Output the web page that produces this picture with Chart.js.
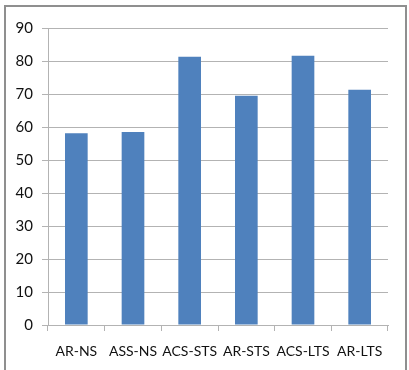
<!DOCTYPE html>
<html>
<head>
<meta charset="utf-8">
<script src="https://cdn.jsdelivr.net/npm/chart.js@4/dist/chart.umd.min.js"></script>
<style>
  html, body { margin: 0; padding: 0; background: #fff; }
  #wrap { position: relative; width: 409px; height: 370px; }
</style>
</head>
<body>
<div id="wrap"><canvas id="chart" width="409" height="370"></canvas></div>
<script>
// Scores per method
const categories = ['AR-NS', 'ASS-NS', 'ACS-STS', 'AR-STS', 'ACS-LTS', 'AR-LTS'];
const scores = [58.1, 58.5, 81.3, 69.5, 81.6, 71.3];
const yTicks = [0, 10, 20, 30, 40, 50, 60, 70, 80, 90];

const gridGray = '#b3b3b3';
const yFont = { family: 'Lato, "Open Sans", sans-serif', size: 15 };
const xFont = { family: 'Lato, "Open Sans", sans-serif', size: 14 };

// Thin gray frame around the figure (open at the bottom)
const framePlugin = {
  id: 'frame',
  afterDraw(chart) {
    const ctx = chart.ctx;
    ctx.save();
    ctx.strokeStyle = '#8f8f8f';
    ctx.lineWidth = 2;
    ctx.beginPath();
    ctx.moveTo(5, 370);
    ctx.lineTo(5, 6);
    ctx.lineTo(406, 6);
    ctx.lineTo(406, 370);
    ctx.stroke();
    ctx.restore();
  }
};

new Chart(document.getElementById('chart'), {
  type: 'bar',
  data: {
    labels: categories,
    datasets: [{
      data: scores,
      backgroundColor: '#4f81bd',
      borderWidth: 0,
      barPercentage: 0.4,
      categoryPercentage: 1.0
    }]
  },
  options: {
    responsive: false,
    animation: false,
    layout: { padding: { top: 28, right: 21, bottom: 0, left: 0 } },
    plugins: { legend: { display: false }, tooltip: { enabled: false } },
    scales: {
      x: {
        offset: true,
        grid: {
          offset: true,
          drawOnChartArea: false,
          drawTicks: true,
          tickLength: 6,
          color: gridGray
        },
        border: { color: gridGray, width: 1 },
        ticks: { color: '#111', font: xFont, padding: 12, maxRotation: 0, autoSkip: false },
        afterFit(scale) { scale.height = 45; }
      },
      y: {
        min: 0,
        max: 90,
        afterBuildTicks(scale) { scale.ticks = yTicks.map(v => ({ value: v })); },
        grid: { color: gridGray, tickLength: 6, lineWidth: 1 },
        border: { color: gridGray, width: 1 },
        ticks: { color: '#111', font: yFont, padding: 9 },
        afterFit(scale) { scale.width = 48; }
      }
    }
  },
  plugins: [framePlugin]
});
</script>
</body>
</html>
